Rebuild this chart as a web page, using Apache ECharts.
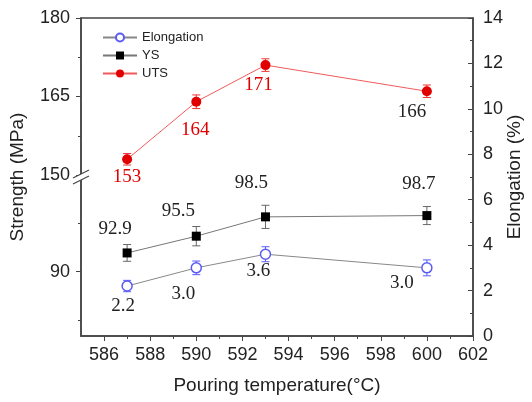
<!DOCTYPE html>
<html><head><meta charset="utf-8">
<script src="https://cdn.jsdelivr.net/npm/echarts@6/dist/echarts.min.js"></script>
<style>html,body{margin:0;padding:0;background:#fff}#c{width:532px;height:402px}</style>
</head><body><div id="c"></div>
<script>
// ---- data ----
const temps = [587, 590, 593, 600];
const uts = [153, 164, 171, 166];
const utsErr = [1.1, 1.3, 1.2, 1.2];
const ys = [92.9, 95.5, 98.5, 98.7];
const ysErr = [1.3, 1.5, 1.8, 1.4];
const elong = [2.2, 3.0, 3.6, 3.0];
const elongErr = [0.25, 0.3, 0.33, 0.35];
const elongLabels = ['2.2', '3.0', '3.6', '3.0'];
const ysLabels = ['92.9', '95.5', '98.5', '98.7'];
const utsLabels = ['153', '164', '171', '166'];
const xTicks = [586, 588, 590, 592, 594, 596, 598, 600, 602];
const xMinor = [587, 589, 591, 593, 595, 597, 599, 601];
const ysTicks = [90];
const ysMinor = [82.5, 97.5];

// ---- label placement (style only) ----
const utsOff = [[0, 18], [-1, 28], [-7, 20], [-15, 21]];
const utsLabelColor = ['#e00000', '#e00000', '#e00000', '#222'];
const ysOff = [[-12, -24], [-18, -25], [-14, -34], [-8, -32]];
const elOff = [[-4, 20], [-13, 26], [-7, 17], [-25, 15]];

const AX = '#444', TXT = '#222';
const serif = 'Liberation Serif, Times New Roman, serif';
const sans = 'Liberation Sans, Arial, sans-serif';

function errBar(color) {
  return function (params, api) {
    const x = api.value(0), lo = api.value(1), hi = api.value(2);
    const p1 = api.coord([x, lo]), p2 = api.coord([x, hi]);
    const w = 4, st = { stroke: color, lineWidth: 1 };
    return { type: 'group', children: [
      { type: 'line', shape: { x1: p1[0], y1: p1[1], x2: p2[0], y2: p2[1] }, style: st },
      { type: 'line', shape: { x1: p1[0] - w, y1: p1[1], x2: p1[0] + w, y2: p1[1] }, style: st },
      { type: 'line', shape: { x1: p2[0] - w, y1: p2[1], x2: p2[0] + w, y2: p2[1] }, style: st }
    ]};
  };
}
function errData(vals, errs) { return temps.map((t, i) => [t, vals[i] - errs[i], vals[i] + errs[i]]); }
function labeled(vals, texts, offs, colors) {
  return temps.map((t, i) => ({
    value: [t, vals[i]],
    label: { show: true, position: 'inside', offset: offs[i], formatter: texts[i],
      color: colors ? colors[i] : TXT, fontFamily: serif, fontSize: 19 }
  }));
}

const hiddenX = { type: 'value', min: 585, max: 602, show: false };
const option = {
  animation: false,
  grid: [
    { left: 81, right: 59, top: 18, height: 157, outerBoundsMode: 'none', containLabel: false },
    { left: 81, right: 59, top: 175, height: 161, outerBoundsMode: 'none', containLabel: false },
    { left: 81, right: 59, top: 18, height: 318, outerBoundsMode: 'none', containLabel: false,
      show: true, borderColor: AX, borderWidth: 1.5, backgroundColor: 'transparent' }
  ],
  xAxis: [
    Object.assign({ gridIndex: 0 }, hiddenX),
    Object.assign({ gridIndex: 1 }, hiddenX),
    { gridIndex: 2, type: 'value', min: 585, max: 602, position: 'bottom',
      name: 'Pouring temperature(°C)', nameLocation: 'middle', nameGap: 40,
      nameTextStyle: { fontFamily: sans, fontSize: 19, color: TXT },
      axisLine: { show: true, lineStyle: { color: AX, width: 1.5 } },
      axisTick: { show: true, inside: false, length: 5, customValues: xTicks, lineStyle: { color: AX } },
      axisLabel: { customValues: xTicks, fontFamily: sans, fontSize: 18, color: TXT, margin: 10 },
      splitLine: { show: false } },
    { gridIndex: 2, type: 'value', min: 585, max: 602, position: 'bottom',
      axisLine: { show: false },
      axisTick: { show: true, inside: false, length: 3, customValues: xMinor, lineStyle: { color: AX } },
      axisLabel: { show: false }, splitLine: { show: false } }
  ],
  yAxis: [
    { gridIndex: 0, type: 'value', min: 150, max: 180, interval: 15, position: 'left',
      axisLine: { show: true, lineStyle: { color: AX, width: 1.5 } },
      axisTick: { show: true, inside: false, length: 5, lineStyle: { color: AX } },
      minorTick: { show: true, splitNumber: 2, length: 3, lineStyle: { color: AX } },
      axisLabel: { fontFamily: sans, fontSize: 18, color: TXT, margin: 11 },
      splitLine: { show: false } },
    { gridIndex: 1, type: 'value', min: 80, max: 105, position: 'left',
      axisLine: { show: true, lineStyle: { color: AX, width: 1.5 } },
      axisTick: { show: true, inside: false, length: 5, customValues: ysTicks, lineStyle: { color: AX } },
      axisLabel: { customValues: ysTicks, fontFamily: sans, fontSize: 18, color: TXT, margin: 11 },
      splitLine: { show: false } },
    { gridIndex: 1, type: 'value', min: 80, max: 105, position: 'left',
      axisLine: { show: false },
      axisTick: { show: true, inside: false, length: 3, customValues: ysMinor, lineStyle: { color: AX } },
      axisLabel: { show: false }, splitLine: { show: false } },
    { gridIndex: 2, type: 'value', min: 0, max: 14, interval: 2, position: 'right',
      name: 'Elongation (%)', nameLocation: 'middle', nameGap: 32, nameRotate: 90, nameMoveOverlap: false,
      nameTextStyle: { fontFamily: sans, fontSize: 19, color: TXT },
      axisLine: { show: true, lineStyle: { color: AX, width: 1.5 } },
      axisTick: { show: true, inside: true, length: 5, lineStyle: { color: AX } },
      minorTick: { show: true, splitNumber: 2, length: 3, lineStyle: { color: AX } },
      axisLabel: { fontFamily: sans, fontSize: 18, color: TXT, margin: 10 },
      splitLine: { show: false } },
    { gridIndex: 2, type: 'value', min: 0, max: 14, position: 'left',
      name: 'Strength (MPa)', nameLocation: 'middle', nameGap: 54, nameRotate: 90, nameMoveOverlap: false,
      nameTextStyle: { fontFamily: sans, fontSize: 19, color: TXT },
      axisLine: { show: false }, axisTick: { show: false }, axisLabel: { show: false },
      splitLine: { show: false } }
  ],
  legend: {
    data: ['Elongation', 'YS', 'UTS'], orient: 'vertical', left: 97, top: 26,
    itemWidth: 34, itemHeight: 10, itemGap: 5,
    textStyle: { fontFamily: sans, fontSize: 13, color: TXT }
  },
  graphic: [
    { type: 'polygon', z: 100, shape: { points: [[73, 178], [89, 170], [89, 176], [73, 184]] }, style: { fill: '#fff' } },
    { type: 'line', z: 101, shape: { x1: 73, y1: 178, x2: 89, y2: 170 }, style: { stroke: AX, lineWidth: 1.2 } },
    { type: 'line', z: 101, shape: { x1: 73, y1: 184, x2: 89, y2: 176 }, style: { stroke: AX, lineWidth: 1.2 } }
  ],
  series: [
    { name: 'UTSerr', type: 'custom', xAxisIndex: 0, yAxisIndex: 0, renderItem: errBar('#e33'), data: errData(uts, utsErr), z: 2 },
    { name: 'YSerr', type: 'custom', xAxisIndex: 1, yAxisIndex: 1, renderItem: errBar('#666'), data: errData(ys, ysErr), z: 2 },
    { name: 'Elerr', type: 'custom', xAxisIndex: 2, yAxisIndex: 3, renderItem: errBar('#5a5af5'), data: errData(elong, elongErr), z: 2 },
    { name: 'Elongation', type: 'line', xAxisIndex: 2, yAxisIndex: 3, data: labeled(elong, elongLabels, elOff),
      symbol: 'circle', symbolSize: 10, z: 3,
      lineStyle: { color: '#888', width: 1 },
      itemStyle: { color: '#fff', borderColor: '#5a5af5', borderWidth: 1.5 } },
    { name: 'YS', type: 'line', xAxisIndex: 1, yAxisIndex: 1, data: labeled(ys, ysLabels, ysOff),
      symbol: 'rect', symbolSize: 9, z: 3,
      lineStyle: { color: '#777', width: 1 },
      itemStyle: { color: '#000' } },
    { name: 'UTS', type: 'line', xAxisIndex: 0, yAxisIndex: 0, data: labeled(uts, utsLabels, utsOff, utsLabelColor),
      symbol: 'circle', symbolSize: 10, z: 3,
      lineStyle: { color: '#f05a5a', width: 1 },
      itemStyle: { color: '#e00000' } }
  ]
};
const chart = echarts.init(document.getElementById('c'), null, { renderer: 'canvas' });
chart.setOption(option);
</script>
</body></html>
